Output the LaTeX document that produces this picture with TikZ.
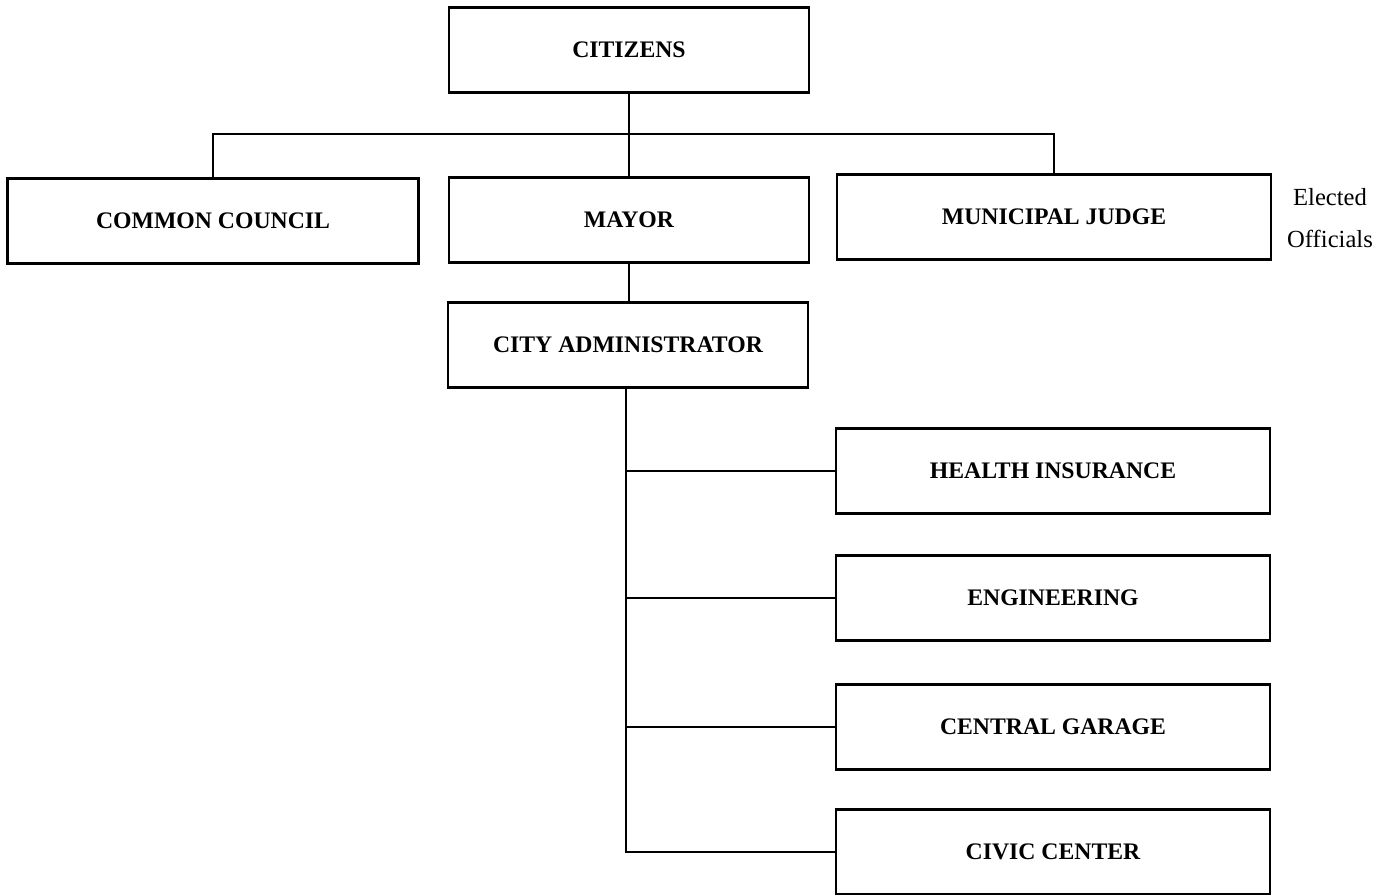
\documentclass[tikz,border=0pt]{standalone}
\usepackage{fontspec}
\setmainfont{Liberation Serif}
\usetikzlibrary{positioning}
\tikzset{
  office/.style={
    rectangle,
    draw=black, line width=1.3pt,
    minimum width=7.2cm,
    minimum height=1.7cm,
    font=\fontsize{13.5}{16}\selectfont\bfseries,
    text centered},
  wideoffice/.style={office, minimum width=8.68cm},
  council/.style={office, minimum width=8.22cm},
  line/.style={draw, line width=1.3pt},
  note/.style={align=center, font=\fontsize{14}{24}\selectfont},
}
\begin{document}
\begin{tikzpicture}
  [x=0.02cm, y=-0.02cm]
  \useasboundingbox (0,0) rectangle (1389,895);
     % elected officials
     \node[office] (Citizens) at (629,50) {CITIZENS};
     \node[council] (CommonCouncil) at (213,221) {COMMON COUNCIL};
     \node[office] (Mayor) at (629,220) {MAYOR};
     \node[wideoffice] (MunicipalJudge) at (1054,217) {MUNICIPAL JUDGE};
     \node[note] (Elected) at (1330,218) {Elected\\Officials};
     % staff under the administrator
     \node[office] (CityAdmin) at (628,345) {CITY ADMINISTRATOR};
     \node[wideoffice] (HealthIns) at (1053,471) {HEALTH INSURANCE};
     \node[wideoffice] (Engineering) at (1053,598) {ENGINEERING};
     \node[wideoffice] (CentralGarage) at (1053,727) {CENTRAL GARAGE};
     \node[wideoffice] (CivicCenter) at (1053,852) {CIVIC CENTER};
     \coordinate (Bus) at (629,134);
     \coordinate (Trunk) at (626,388);
  %% connectors
     \path[line] (Citizens.south) -- (Mayor.north);
     \path[line] (CommonCouncil.north) |- (Bus) -| (MunicipalJudge.north);
     \path[line] (Mayor.south) -- (Mayor.south |- CityAdmin.north);
     \path[line] (Trunk) -- (Trunk |- CivicCenter.west) -- (CivicCenter.west);
     \foreach \dept in {HealthIns, Engineering, CentralGarage}
       \path[line] (Trunk |- \dept.west) -- (\dept.west);
\end{tikzpicture}
\end{document}
